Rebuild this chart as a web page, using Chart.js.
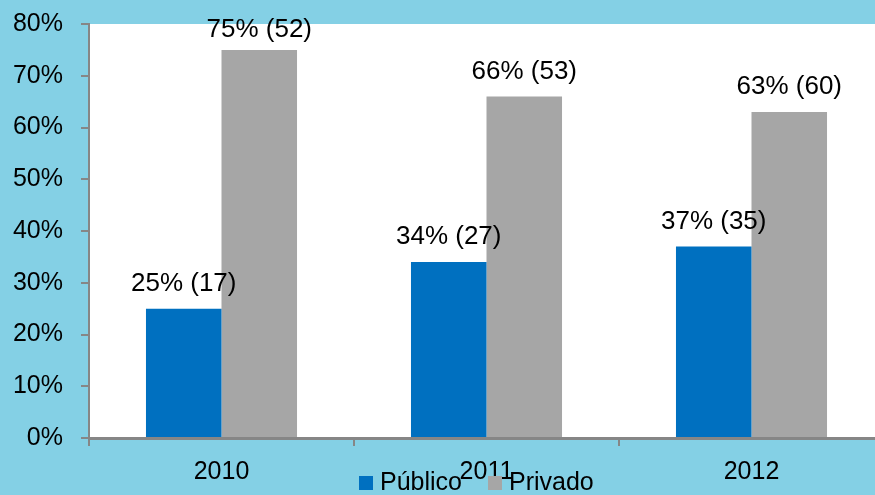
<!DOCTYPE html>
<html>
<head>
<meta charset="utf-8">
<script src="https://cdn.jsdelivr.net/npm/chart.js@4/dist/chart.umd.min.js"></script>
<style>
  html, body { margin: 0; padding: 0; overflow: hidden; background: #84d0e5; }
  canvas { display: block; }
</style>
</head>
<body>
<canvas id="myChart" width="884" height="495"></canvas>
<script>
const years = ['2010', '2011', '2012'];
const publico = [25, 34, 37];
const privado = [75, 66, 63];
const publicoN = [17, 27, 35];
const privadoN = [52, 53, 60];
const yTicks = [0, 10, 20, 30, 40, 50, 60, 70, 80];

const FONT = "'Liberation Sans', Arial, sans-serif";
const axisGray = '#868686';

// sfondo azzurro + area del grafico bianca
const bgPlugin = {
    id: 'bg',
    beforeDraw(chart) {
        const c = chart.ctx, a = chart.chartArea;
        c.save();
        c.fillStyle = '#84d0e5';
        c.fillRect(0, 0, chart.width, chart.height);
        c.fillStyle = '#ffffff';
        c.fillRect(a.left, a.top, a.right - a.left, a.bottom - a.top);
        c.restore();
    }
};

// etichette sopra le barre: "25% (17)"
const labelPlugin = {
    id: 'barLabels',
    afterDatasetsDraw(chart) {
        const c = chart.ctx;
        c.save();
        c.font = '26px ' + FONT;
        c.fillStyle = '#000';
        c.textAlign = 'center';
        c.textBaseline = 'middle';
        chart.data.datasets.forEach((ds, i) => {
            chart.getDatasetMeta(i).data.forEach((bar, j) => {
                const txt = ds.data[j] + '% (' + ds.counts[j] + ')';
                c.fillText(txt, bar.x, Math.max(bar.y - 25, 30));
            });
        });
        c.restore();
    }
};

// legenda in basso, sovrapposta alle etichette dell'asse x
const legendPlugin = {
    id: 'bottomLegend',
    afterDraw(chart) {
        const c = chart.ctx;
        c.save();
        c.font = '25px ' + FONT;
        c.textBaseline = 'middle';
        c.fillStyle = '#000';
        let x = 359;
        const y = 483;
        chart.data.datasets.forEach(ds => {
            c.fillStyle = ds.backgroundColor;
            c.fillRect(x, y - 7, 14, 14);
            c.fillStyle = '#000';
            c.fillText(ds.label, x + 21, y);
            x += 21 + c.measureText(ds.label).width + 26;
        });
        c.restore();
    }
};

const ctx = document.getElementById('myChart').getContext('2d');
const myChart = new Chart(ctx, {
    type: 'bar',
    data: {
        labels: years,
        datasets: [{
            label: 'Público',
            data: publico,
            counts: publicoN,
            backgroundColor: '#0070c0',
            barPercentage: 1,
            categoryPercentage: 0.57
        }, {
            label: 'Privado',
            data: privado,
            counts: privadoN,
            backgroundColor: '#a6a6a6',
            barPercentage: 1,
            categoryPercentage: 0.57
        }]
    },
    options: {
        responsive: false,
        animation: false,
        layout: { padding: { top: 24, right: 0, left: 0, bottom: 0 } },
        plugins: {
            legend: { display: false },
            tooltip: { enabled: false }
        },
        scales: {
            y: {
                min: 0,
                max: 80,
                afterBuildTicks(scale) {
                    scale.ticks = yTicks.map(v => ({ value: v }));
                },
                afterFit(scale) {
                    scale.width = 89;
                    scale.paddingTop = 0;
                    scale.paddingBottom = 0;
                },
                ticks: {
                    callback: v => v + '%',
                    color: '#000',
                    font: { family: FONT, size: 25 },
                    padding: 18
                },
                grid: {
                    drawOnChartArea: false,
                    tickLength: 8,
                    color: axisGray,
                    lineWidth: 2
                },
                border: { color: axisGray, width: 2 }
            },
            x: {
                afterFit(scale) {
                    scale.height = 57;
                    scale.paddingLeft = 0;
                    scale.paddingRight = 0;
                },
                ticks: {
                    color: '#000',
                    font: { family: FONT, size: 25 },
                    padding: 11
                },
                grid: {
                    drawOnChartArea: false,
                    tickLength: 8,
                    color: axisGray,
                    lineWidth: 2
                },
                border: { color: axisGray, width: 3 }
            }
        }
    },
    plugins: [bgPlugin, labelPlugin, legendPlugin]
});
</script>
</body>
</html>
